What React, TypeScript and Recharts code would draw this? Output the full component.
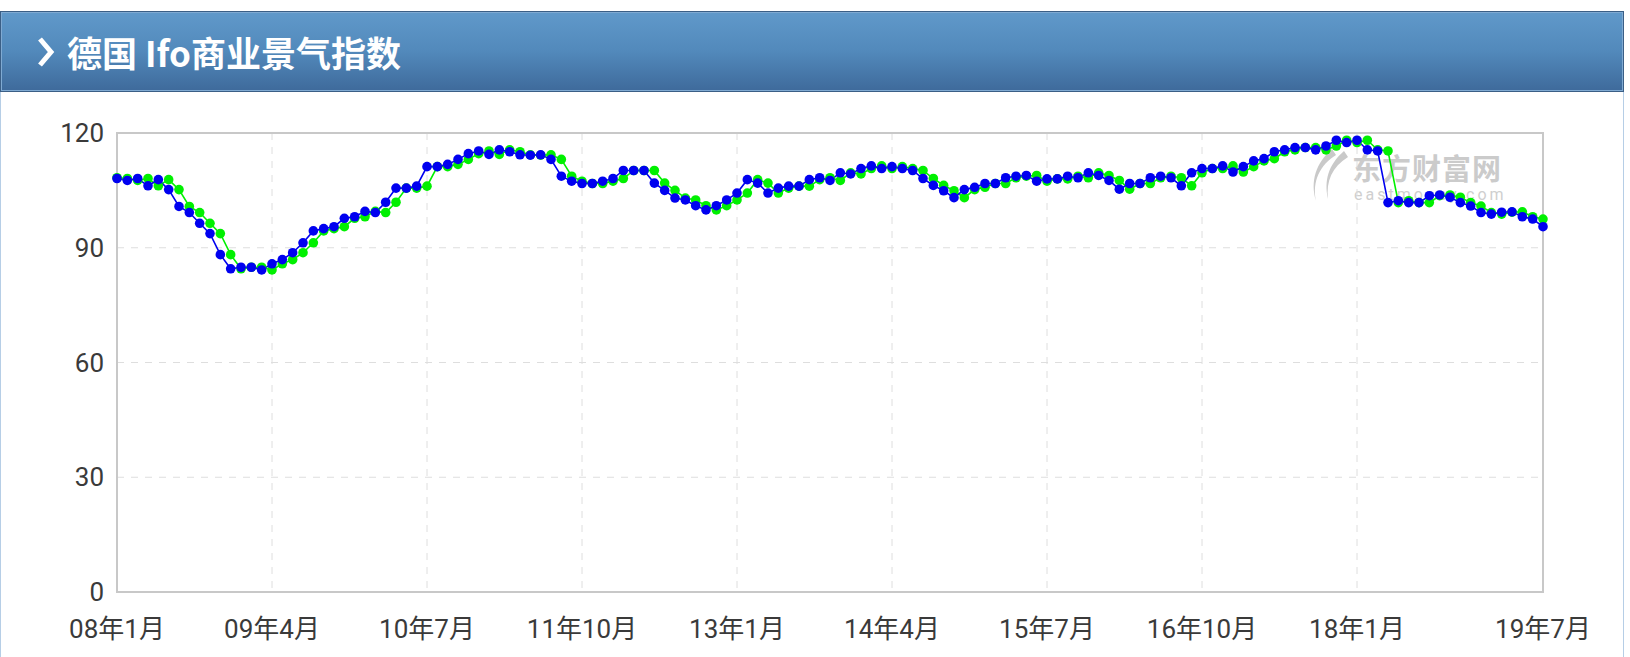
import React from 'react';
import { LineChart, Line, XAxis, YAxis, CartesianGrid, ReferenceArea } from 'recharts';

// monthly, 08年1月 .. 19年7月
const START_YEAR = 2008;
const MONTH_COUNT = 139;

const tickIdx = [0, 15, 30, 45, 60, 75, 90, 105, 120, 138];
const tickLabels = ['08年1月', '09年4月', '10年7月', '11年10月', '13年1月', '14年4月', '15年7月', '16年10月', '18年1月', '19年7月'];
const yTicks = [0, 30, 60, 90, 120];

// 今值 (blue)
const ifoCurrent = [
  108.1, 107.6, 108.1, 106.2, 107.8, 105.2, 100.8, 99.2, 96.4, 93.7, 88.2, 84.5,
  84.9, 84.9, 84.2, 85.8, 86.9, 88.7, 91.3, 94.4, 95.0, 95.5, 97.7, 98.1,
  99.5, 99.2, 101.9, 105.6, 105.6, 106.1, 111.2, 111.2, 111.8, 113.1, 114.6, 115.3,
  114.4, 115.6, 115.1, 114.3, 114.2, 114.3, 113.1, 108.7, 107.4, 106.8, 106.8, 107.4,
  108.1, 110.2, 110.2, 110.2, 106.9, 105.0, 103.0, 102.5, 101.0, 99.9, 101.0, 102.5,
  104.3, 107.8, 106.9, 104.3, 105.6, 106.1, 106.1, 107.8, 108.3, 107.6, 109.6, 109.3,
  110.7, 111.4, 110.7, 111.2, 110.7, 110.2, 108.1, 106.3, 104.9, 103.1, 105.2, 105.8,
  106.8, 106.8, 108.3, 108.7, 108.9, 107.4, 108.0, 108.0, 108.7, 108.3, 109.6, 108.9,
  107.6, 105.3, 106.8, 106.8, 108.3, 108.7, 108.3, 106.2, 109.6, 110.7, 110.7, 111.4,
  109.8, 111.2, 112.7, 113.3, 115.1, 115.6, 116.2, 116.2, 115.6, 116.6, 118.1, 117.5,
  118.1, 115.6, 115.3, 101.8, 102.3, 101.8, 101.8, 103.6, 103.8, 103.2, 101.8, 100.9,
  99.2, 98.8, 99.3, 99.4, 98.1, 97.5, 95.5,
];

// 前值 (green)
const ifoPrevious = [
  108.3, 108.1, 107.6, 108.1, 106.2, 107.8, 105.2, 100.8, 99.2, 96.4, 93.7, 88.2,
  84.5, 84.9, 84.9, 84.2, 85.8, 86.9, 88.7, 91.3, 94.4, 95.0, 95.5, 97.7,
  98.1, 99.5, 99.2, 101.9, 105.6, 105.6, 106.1, 111.2, 111.2, 111.8, 113.1, 114.6,
  115.3, 114.4, 115.6, 115.1, 114.3, 114.2, 114.3, 113.1, 108.7, 107.4, 106.8, 106.8,
  107.4, 108.1, 110.2, 110.2, 110.2, 106.9, 105.0, 103.0, 102.5, 101.0, 99.9, 101.0,
  102.5, 104.3, 107.8, 106.9, 104.3, 105.6, 106.1, 106.1, 107.8, 108.3, 107.6, 109.6,
  109.3, 110.7, 111.4, 110.7, 111.2, 110.7, 110.2, 108.1, 106.3, 104.9, 103.1, 105.2,
  105.8, 106.8, 106.8, 108.3, 108.7, 108.9, 107.4, 108.0, 108.0, 108.7, 108.3, 109.6,
  108.9, 107.6, 105.3, 106.8, 106.8, 108.3, 108.7, 108.3, 106.2, 109.6, 110.7, 110.7,
  111.4, 109.8, 111.2, 112.7, 113.3, 115.1, 115.6, 116.2, 116.2, 115.6, 116.6, 118.1,
  117.5, 118.1, 115.6, 115.3, 101.8, 102.3, 101.8, 101.8, 103.6, 103.8, 103.2, 101.8,
  100.9, 99.2, 98.8, 99.3, 99.4, 98.1, 97.5,
];

const monthLabel = (i: number) => {
  const y = START_YEAR + Math.floor(i / 12);
  return `${String(y % 100).padStart(2, '0')}年${(i % 12) + 1}月`;
};

const rows = Array.from({ length: MONTH_COUNT }, (_, i) => ({
  idx: i,
  month: monthLabel(i),
  current: ifoCurrent[i],
  previous: ifoPrevious[i],
}));

const BLUE = '#0000f0';
const GREEN = '#00f000';
const tickFont = { fontSize: 26, fill: '#3a3a3a', fontFamily: "Roboto, 'Noto Sans CJK SC', sans-serif" };

export default function App() {
  return (
    <div style={{ position: 'absolute', left: 0, top: 0, width: 1630, height: 657, background: '#fff', overflow: 'hidden' }}>
      {/* header bar */}
      <div
        style={{
          position: 'absolute', left: 0, top: 11, width: 1622, height: 79,
          border: '1px solid #3b5f86',
          boxShadow: 'inset 0 0 0 1px #80aad2',
          background: 'linear-gradient(to bottom, #6099ca 0%, #5289bb 50%, #3e6a9b 100%)',
        }}
      >
        <svg width={24} height={44} style={{ position: 'absolute', left: 33, top: 18 }}>
          <polyline points="6,9 17,22 6,35" fill="none" stroke="#fff" strokeWidth={5} />
        </svg>
        <div
          style={{
            position: 'absolute', left: 66, top: 18, color: '#fff', fontSize: 35, fontWeight: 700,
            lineHeight: '44px', fontFamily: "'Noto Sans CJK SC', 'Noto Sans', sans-serif", whiteSpace: 'nowrap',
          }}
        >
          德国 Ifo商业景气指数
        </div>
      </div>

      {/* panel borders */}
      <div style={{ position: 'absolute', left: 0, top: 92, width: 1622, height: 570, borderLeft: '1px solid #b6cee6', borderRight: '1px solid #b6cee6' }} />

      {/* watermark */}
      <svg width={50} height={60} style={{ position: 'absolute', left: 1302, top: 145 }}>
        <path d="M30,4 C14,18 8,36 14,56 C10,36 18,20 34,10 Z" fill="#c9c9c9" />
        <path d="M42,6 C26,20 22,36 26,54 C24,36 30,22 46,12 Z" fill="#c9c9c9" />
      </svg>
      <svg width={180} height={80} style={{ position: 'absolute', left: 1350, top: 138 }}>
        <text x={2} y={42} fontSize={29} fontWeight={700} fill="#cbcbcb" fontFamily="'Noto Sans CJK SC', sans-serif" letterSpacing={1}>
          东方财富网
        </text>
        <text x={4} y={62} fontSize={16} fill="#cfcfcf" fontFamily="Roboto, sans-serif" letterSpacing={3}>
          eastmoney.com
        </text>
      </svg>

      <div style={{ position: 'absolute', left: 0, top: 92 }}>
        <LineChart width={1622} height={565} data={rows} margin={{ top: 41, right: 79, bottom: 0, left: 0 }}>
          <CartesianGrid stroke="#dedede" strokeDasharray="7 7" />
          <XAxis
            dataKey="idx"
            type="number"
            domain={[0, MONTH_COUNT - 1]}
            ticks={tickIdx}
            tickFormatter={(v: number) => tickLabels[tickIdx.indexOf(v)] ?? ''}
            interval={0}
            height={65}
            tickLine={false}
            tickMargin={22}
            axisLine={{ stroke: '#c8c8c8', strokeWidth: 2 }}
            tick={tickFont}
          />
          <YAxis
            type="number"
            domain={[0, 120]}
            ticks={yTicks}
            width={117}
            tickLine={false}
            tickMargin={7}
            axisLine={{ stroke: '#c8c8c8', strokeWidth: 2 }}
            tick={tickFont}
          />
          <ReferenceArea x1={0} x2={MONTH_COUNT - 1} y1={0} y2={120} fill="none" stroke="#c8c8c8" strokeWidth={2} />
          <Line
            type="linear"
            dataKey="previous"
            stroke={GREEN}
            strokeWidth={1.6}
            dot={{ r: 4.8, fill: GREEN, stroke: 'none' }}
            activeDot={false}
            isAnimationActive={false}
          />
          <Line
            type="linear"
            dataKey="current"
            stroke={BLUE}
            strokeWidth={1.6}
            dot={{ r: 4.8, fill: BLUE, stroke: 'none' }}
            activeDot={false}
            isAnimationActive={false}
          />
        </LineChart>
      </div>
    </div>
  );
}
